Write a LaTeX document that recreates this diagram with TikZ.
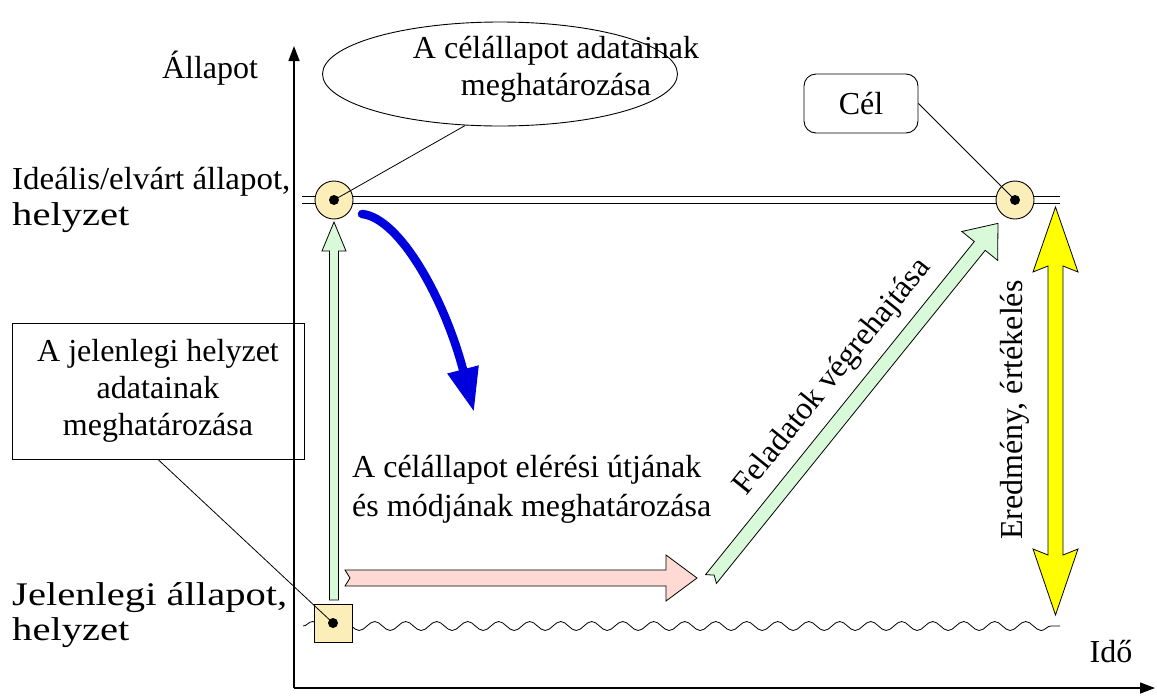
\documentclass[tikz,border=0pt]{standalone}
\usepackage{fontspec}
\setmainfont{Liberation Serif}
\usetikzlibrary{shapes.geometric,arrows.meta,decorations.pathmorphing,calc}

\definecolor{markfill}{RGB}{251,238,185}
\definecolor{arrowgreen}{RGB}{217,250,217}
\definecolor{arrowpink}{RGB}{255,218,212}
\definecolor{arrowyellow}{RGB}{255,255,0}
\definecolor{bendblue}{RGB}{0,0,221}

\tikzset{
  lbl/.style={font=\fontsize{32}{37}\selectfont, inner sep=0pt},
  sidelbl/.style={lbl, anchor=west},
  widelbl/.style={sidelbl, font=\fontsize{33}{37}\selectfont, xscale=1.23},
  axisline/.style={line width=1.4pt, -{Triangle[length=15pt,width=11pt]}},
  statemark/.style={circle, draw, line width=0.9pt, fill=markfill, minimum size=38pt, inner sep=0pt},
  startmark/.style={rectangle, draw, line width=0.9pt, fill=markfill, minimum size=38pt, inner sep=0pt},
  dot/.style={circle, fill=black, minimum size=10pt, inner sep=0pt},
  fatarrow/.style={draw, line width=0.8pt, line join=miter},
  callout/.style={line width=0.8pt},
  infobox/.style={lbl, draw, line width=0.9pt, align=center}
}

\begin{document}
\begin{tikzpicture}[x=1pt, y=-1pt]
\useasboundingbox (0,0) rectangle (1157,697);

% axes
\coordinate (O) at (294,688);
\coordinate (Ytop) at (294,46);
\coordinate (Xend) at (1155,688);
\draw[axisline] (O) -- (Ytop);
\draw[axisline] (O) -- (Xend);
\node[lbl] (ylab) at (210,68) {Állapot};
\node[lbl] (xlab) at (1111,652) {Idő};

% level labels
\node[sidelbl, xscale=1.03] (ideal1) at (12,182) {Ideális/elvárt állapot,};
\node[widelbl] (ideal2) at (12,218) {helyzet};
\node[widelbl] (current1) at (12,598) {Jelenlegi állapot,};
\node[widelbl] (current2) at (12,633) {helyzet};

% ideal level (double line) and current level (wavy line)
\draw[double, double distance=6pt, line width=1pt] (302,200) -- (1060,200);
\draw[line width=0.8pt, decorate, decoration={snake, segment length=31pt, amplitude=4.5pt}] (303,626) -- (1060,626);

% yellow double-headed arrow
\draw[fatarrow, fill=arrowyellow]
  (1055.5,207) -- (1078,272) -- (1063,266) -- (1063,555) -- (1078,549) -- (1055.5,615)
  -- (1033,549) -- (1048,555) -- (1048,266) -- (1033,272) -- cycle;

% green vertical arrow
\draw[fatarrow, fill=arrowgreen]
  (329.5,600) -- (329.5,251) -- (322,251) -- (334,222) -- (346,251) -- (338.5,251) -- (338.5,600) -- cycle;

% pink horizontal arrow
\draw[fatarrow, fill=arrowpink]
  (345,570) -- (666,570) -- (666,555) -- (697,578) -- (666,601) -- (666,586) -- (345,586) -- (350,578) -- cycle;

% green diagonal arrow
\begin{scope}[shift={(711,579)}, rotate=51.1]
  \draw[fatarrow, fill=arrowgreen]
    (0,-7) -- (428,-7) -- (428,-23) -- (457,0) -- (428,23) -- (428,7) -- (0,7) -- (5,0) -- cycle;
\end{scope}

% blue bent arrow
\draw[bendblue, line width=8.5pt, line cap=round, -{Triangle[length=44pt,width=30pt]}]
  (362,214) .. controls (400,218) and (445,300) .. (474,412);

% state markers
\node[statemark] (cIdeal) at (334,200) {};
\node[statemark] (cGoal) at (1015,200) {};
\node[startmark] (sq) at (333,623) {};
\node[dot] at (cIdeal.center) {};
\node[dot] at (cGoal.center) {};
\node[dot] at (sq.center) {};

% callouts
\node[draw, line width=0.9pt, ellipse, minimum width=355pt, minimum height=104pt, inner sep=0pt] (ell) at (500,74) {};
\node[lbl, align=center] (elltext) at (556,69) {A célállapot adatainak\\meghatározása};
\node[infobox, rounded corners=12pt, minimum width=114pt, minimum height=59pt] (cel) at (861,103.5) {Cél};
\node[infobox, minimum width=292pt, minimum height=136pt] (curbox) at (158,391) {A jelenlegi helyzet\\adatainak\\meghatározása};

\draw[callout] (ell.-124) -- (cIdeal.center);
\draw[callout] (cel.east) -- (cGoal.center);
\draw[callout] (curbox.south) -- (sq.center);

% process texts
\node[lbl, font=\fontsize{32}{39}\selectfont, align=left, anchor=west] (route) at (352,489) {A célállapot elérési útjának\\és módjának meghatározása};
\node[lbl, rotate=51.1] (exec) at (833,377) {Feladatok végrehajtása};
\node[lbl, rotate=90] (eval) at (1015,410) {Eredmény, értékelés};
\end{tikzpicture}
\end{document}
